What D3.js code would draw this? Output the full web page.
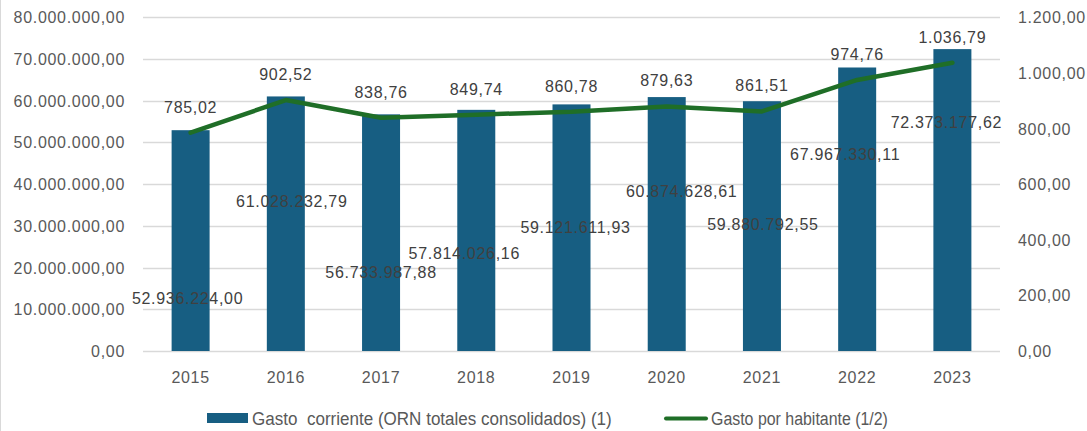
<!DOCTYPE html>
<html><head><meta charset="utf-8">
<script src="https://cdn.jsdelivr.net/npm/d3@7"></script>
<style>body{margin:0;background:#fff}svg{display:block}text{font-family:"Liberation Sans",Arial,sans-serif}</style>
</head><body>
<svg id="c" width="1087" height="431"></svg>
<script>
const years = ["2015","2016","2017","2018","2019","2020","2021","2022","2023"];
const gasto = [52936224.00,61028232.79,56733987.88,57814026.16,59121611.93,60874628.61,59880792.55,67967330.11,72373177.62];
const gastoLabels = ["52.936.224,00","61.028.232,79","56.733.987,88","57.814.026,16","59.121.611,93","60.874.628,61","59.880.792,55","67.967.330,11","72.373.177,62"];
const habitante = [785.02,902.52,838.76,849.74,860.78,879.63,861.51,974.76,1036.79];
const habitanteLabels = ["785,02","902,52","838,76","849,74","860,78","879,63","861,51","974,76","1.036,79"];
// label anchor (left-axis units) and horizontal nudge for bar value labels, as placed in the original
const gastoLabelAt = [12.7e6,36.0e6,18.9e6,23.5e6,29.7e6,38.4e6,30.4e6,47.2e6,55.0e6];
const gastoLabelDx = [-3,6,0,-12,4,15,1,-12,-6];
const leftTicks = [0,10e6,20e6,30e6,40e6,50e6,60e6,70e6,80e6];
const leftTickLabels = ["0,00","10.000.000,00","20.000.000,00","30.000.000,00","40.000.000,00","50.000.000,00","60.000.000,00","70.000.000,00","80.000.000,00"];
const rightTicks = [0,200,400,600,800,1000,1200];
const rightTickLabels = ["0,00","200,00","400,00","600,00","800,00","1.000,00","1.200,00"];
const seriesNames = ["Gasto  corriente (ORN totales consolidados) (1)","Gasto por habitante (1/2)"];

const svg = d3.select("#c");
const L = 143, R = 1000, T = 17.3, B = 351;
const x = d3.scaleBand().domain(years).range([L,R]).paddingInner(0).paddingOuter(0);
const yL = d3.scaleLinear().domain([0,80e6]).range([B,T]);
const yR = d3.scaleLinear().domain([0,1200]).range([B,T]);
const barW = 38;
const barColor = "#175E82", lineColor = "#1F6E27", txt = "#595959", lbl = "#404040";

svg.append("line").attr("x1",0.5).attr("x2",0.5).attr("y1",0).attr("y2",431).attr("stroke","#D9D9D9");

// grid
svg.append("g").selectAll("line").data(leftTicks).join("line")
  .attr("x1",L).attr("x2",R).attr("y1",d=>Math.round(yL(d))+0.5).attr("y2",d=>Math.round(yL(d))+0.5)
  .attr("stroke","#D9D9D9").attr("stroke-width",1.3);

// left axis labels
svg.append("g").selectAll("text").data(leftTicks).join("text")
  .attr("x",125).attr("y",d=>yL(d)+6).attr("text-anchor","end")
  .attr("font-size",16).attr("letter-spacing",0.7).attr("fill",txt)
  .text((d,i)=>leftTickLabels[i]);
// right axis labels
svg.append("g").selectAll("text").data(rightTicks).join("text")
  .attr("x",1018).attr("y",d=>yR(d)+6).attr("text-anchor","start")
  .attr("font-size",16).attr("letter-spacing",0.7).attr("fill",txt)
  .text((d,i)=>rightTickLabels[i]);
// x labels
svg.append("g").selectAll("text").data(years).join("text")
  .attr("x",d=>x(d)+x.bandwidth()/2).attr("y",383).attr("text-anchor","middle")
  .attr("font-size",16).attr("letter-spacing",0.7).attr("fill",txt).text(d=>d);

// bars
svg.append("g").selectAll("rect").data(gasto).join("rect")
  .attr("x",(d,i)=>x(years[i])+x.bandwidth()/2-barW/2).attr("width",barW)
  .attr("y",d=>yL(d)).attr("height",d=>B-yL(d)).attr("fill",barColor);

// line
const line = d3.line().x((d,i)=>x(years[i])+x.bandwidth()/2).y(d=>yR(d));
svg.append("path").datum(habitante).attr("d",line).attr("fill","none")
  .attr("stroke",lineColor).attr("stroke-width",4.5).attr("stroke-linejoin","round").attr("stroke-linecap","round");

// bar labels
svg.append("g").selectAll("text").data(gasto).join("text")
  .attr("x",(d,i)=>x(years[i])+x.bandwidth()/2+gastoLabelDx[i]).attr("y",(d,i)=>yL(gastoLabelAt[i])+6)
  .attr("text-anchor","middle").attr("font-size",16).attr("letter-spacing",0.7).attr("fill",lbl)
  .text((d,i)=>gastoLabels[i]);
// line labels
svg.append("g").selectAll("text").data(habitante).join("text")
  .attr("x",(d,i)=>x(years[i])+x.bandwidth()/2).attr("y",d=>yR(d)-26+6)
  .attr("text-anchor","middle").attr("font-size",16).attr("letter-spacing",0.7).attr("fill",lbl)
  .text((d,i)=>habitanteLabels[i]);

// legend
const lg = svg.append("g");
function legText(str, x0, targetW){
  const g = lg.append("g");
  const t = g.append("text").attr("x",0).attr("y",0).attr("font-size",18).attr("fill",txt)
    .style("white-space","pre").text(str);
  const w = t.node().getComputedTextLength();
  g.attr("transform",`translate(${x0},425) scale(${targetW/w},1)`);
}
lg.append("rect").attr("x",207).attr("y",413).attr("width",41).attr("height",10).attr("fill",barColor);
legText(seriesNames[0],252,360);
lg.append("line").attr("x1",666).attr("x2",706).attr("y1",418.5).attr("y2",418.5)
  .attr("stroke",lineColor).attr("stroke-width",4).attr("stroke-linecap","round");
legText(seriesNames[1],711,177);
</script>
</body></html>
